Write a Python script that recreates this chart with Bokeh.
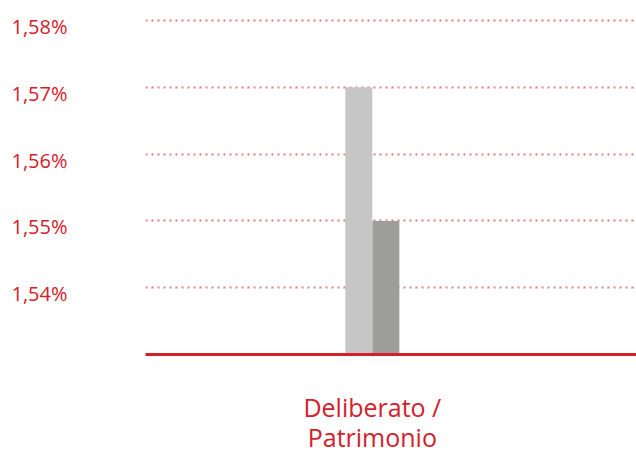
from bokeh.plotting import figure
from bokeh.models import (Range1d, FixedTicker, CustomJSTickFormatter,
                          ColumnDataSource, LinearAxis)
from bokeh.transform import dodge
from bokeh.embed import file_html
from bokeh.resources import INLINE

categories = ["Deliberato /\nPatrimonio"]
series_a = [1.57]   # light grey
series_b = [1.55]   # dark grey
y_ticks = [1.54, 1.55, 1.56, 1.57, 1.58]
baseline = 1.53

RED = "#d4202b"
xs = list(range(len(categories)))
src = ColumnDataSource(dict(x=xs, a=series_a, b=series_b,
                            base=[baseline] * len(xs)))

y_top = 1.583
p = figure(width=636, height=457, output_backend="svg", toolbar_location=None,
           x_range=Range1d(-0.462, 0.538), y_range=Range1d(baseline, y_top),
           min_border_left=145, min_border_right=0, min_border_top=0,
           min_border_bottom=103)
p.outline_line_color = None
p.background_fill_color = "white"

bw = 0.055
p.vbar(x=dodge("x", -bw / 2, range=p.x_range), top="a", bottom="base", width=bw,
       source=src, fill_color="#c6c6c6", line_color=None)
p.vbar(x=dodge("x", bw / 2, range=p.x_range), top="b", bottom="base", width=bw,
       source=src, fill_color="#9d9d9c", line_color=None)

# grids
p.xgrid.visible = False
p.ygrid.ticker = FixedTicker(ticks=y_ticks)
p.ygrid.grid_line_color = "#e67a80"
p.ygrid.grid_line_width = 2
p.ygrid.grid_line_dash = "2 4"

# default y axis hidden; labels drawn by an axis on a slightly shifted range
p.yaxis.visible = False
shift = 0.0009
p.extra_y_ranges = {"lab": Range1d(baseline + shift, y_top + shift)}
yax = LinearAxis(y_range_name="lab", ticker=FixedTicker(ticks=y_ticks))
yax.formatter = CustomJSTickFormatter(
    code="return tick.toFixed(2).replace('.', ',') + '%';")
yax.axis_line_color = None
yax.major_tick_line_color = None
yax.minor_tick_line_color = None
yax.major_label_text_color = RED
yax.major_label_text_font = "Open Sans"
yax.major_label_text_font_size = "20px"
yax.major_label_standoff = 72
p.add_layout(yax, "left")

# x axis
p.xaxis.ticker = FixedTicker(ticks=xs)
p.xaxis.major_label_overrides = {x: c for x, c in zip(xs, categories)}
p.xaxis.axis_line_color = RED
p.xaxis.axis_line_width = 3
p.xaxis.major_tick_line_color = None
p.xaxis.minor_tick_line_color = None
p.xaxis.major_label_text_color = RED
p.xaxis.major_label_text_font = "Open Sans"
p.xaxis.major_label_text_font_size = "25px"
p.xaxis.major_label_text_line_height = 0.9
p.xaxis.major_label_standoff = 29

open("out.html", "w").write(file_html(p, INLINE))
